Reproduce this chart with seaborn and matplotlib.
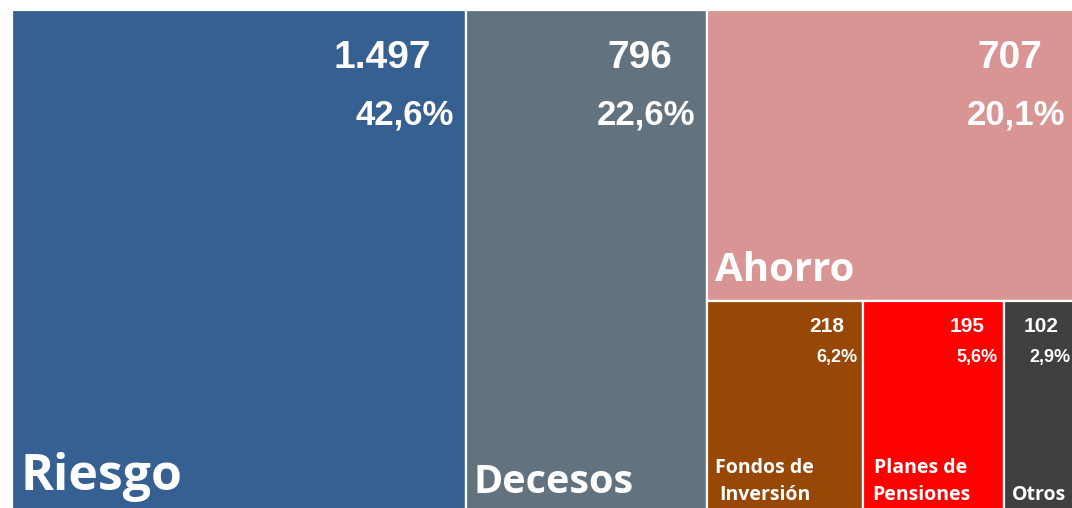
import matplotlib
matplotlib.use("Agg")
import matplotlib.pyplot as plt
import seaborn as sns
from matplotlib.patches import Rectangle

# --- data ---
categories = ["Riesgo", "Decesos", "Ahorro", "Fondos de\nInversión", "Planes de\nPensiones", "Otros"]
values = [1497, 796, 707, 218, 195, 102]
percents = [42.6, 22.6, 20.1, 6.2, 5.6, 2.9]
colors = ["#366092", "#62737f", "#d99594", "#974706", "#ff0000", "#404040"]

sns.set_theme(style="white")
plt.rcParams["font.family"] = ["Liberation Sans", "DejaVu Sans"]

LABEL_FONT = ["Open Sans", "DejaVu Sans"]
NUM_FONT = ["Liberation Sans", "DejaVu Sans"]


def layout(vals):
    """Two full-height columns, then a column with one block on top and a row below."""
    total = float(sum(vals))
    rects = []
    x = 0.0
    for v in vals[:2]:
        w = v / total
        rects.append((x, 0.0, w, 1.0))
        x += w
    col_w = 1.0 - x
    col_total = float(sum(vals[2:]))
    top_h = vals[2] / col_total
    rects.append((x, 1.0 - top_h, col_w, top_h))
    row_total = float(sum(vals[3:]))
    xx = x
    for v in vals[3:]:
        w = col_w * v / row_total
        rects.append((xx, 0.0, w, 1.0 - top_h))
        xx += w
    return rects


def fmt_value(v):
    return f"{v:,}".replace(",", ".")


fig = plt.figure(figsize=(10.72, 5.08), dpi=100)
ax = fig.add_axes([12 / 1072, -5 / 508, 1065 / 1072, 503 / 508])
ax.set_xlim(0, 1)
ax.set_ylim(0, 1)
ax.axis("off")

rects = layout(values)
for i, (x, y, w, h) in enumerate(rects):
    ax.add_patch(Rectangle((x, y), w, h, facecolor=colors[i], edgecolor="white", linewidth=1.6))

    big = i < 3
    vfs = 28 if big else 15
    pfs = 25 if big else 13
    lfs = [36, 28.5, 29][i] if big else 14

    # value + share, top right
    ax.annotate(fmt_value(values[i]), xy=(x + w, y + h), xytext=(-0.9 * vfs, -1.5 * vfs),
                textcoords="offset points", ha="right", va="baseline",
                fontsize=vfs, fontweight="bold", color="white", family=NUM_FONT)
    ax.annotate(f"{percents[i]:.1f}%".replace(".", ","), xy=(x + w, y + h),
                xytext=(-0.3 * vfs, -2.95 * vfs), textcoords="offset points",
                ha="right", va="baseline", fontsize=pfs, fontweight="bold",
                color="white", family=NUM_FONT)

    # category name, bottom left
    ax.annotate(categories[i], xy=(x, y), xytext=(6, 0.33 * lfs + 5),
                textcoords="offset points", ha="left", va="baseline",
                multialignment="center", linespacing=1.45,
                fontsize=lfs, fontweight="bold", color="white", family=LABEL_FONT)

fig.savefig("out.png", dpi=100, facecolor="white")
